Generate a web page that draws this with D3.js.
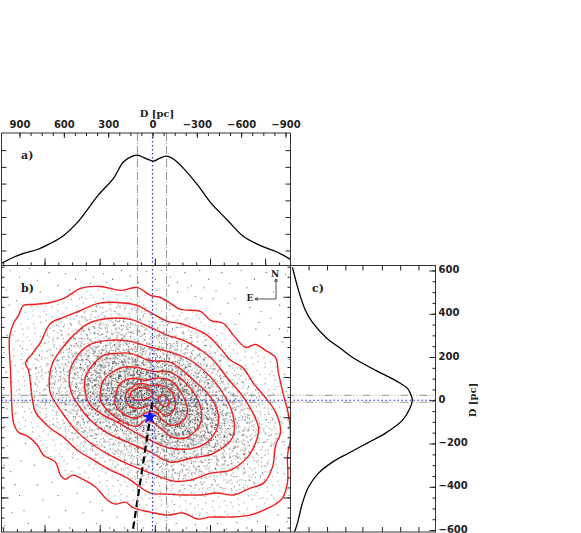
<!DOCTYPE html>
<html>
<head>
<meta charset="utf-8">
<script src="https://d3js.org/d3.v7.min.js"></script>
<style>
  body { margin: 0; background: #fff; }
  svg { display: block; }
  text { font-family: "DejaVu Sans", sans-serif; font-size: 10px; font-weight: bold; fill: #222; }
</style>
</head>
<body>
<svg id="chart" width="581" height="533"></svg>
<script>
// profile along the x direction: D [pc], normalised density
var profileAx = [1022,948,873,779,691,603,508,433,366,264,196,135,102,47,-7,-47,-95,-142,-210,-305,-393,-508,-609,-731,-846,-934];
var profileAy = [.02,.07,.11,.145,.20,.27,.39,.52,.64,.79,.94,.99,1,.97,.945,.97,.99,.965,.88,.73,.57,.41,.27,.18,.12,.055];

// profile along the y direction
var profileCy = [614,508,415,360,286,240,198,138,92,55,23,0,-37,-92,-152,-198,-245,-286,-337,-401,-475,-568,-609];
var profileCx = [.016,.066,.123,.18,.30,.41,.51,.70,.86,.96,.99,1,.98,.92,.78,.63,.475,.344,.23,.148,.098,.057,.033];

// red density contours, outermost first, [D x, D y]
var contour1 = [[968,291],[941,355],[907,392],[873,438],[806,443],[691,452],[589,475],[487,517],[352,526],[217,508],[102,521],[14,485],[-54,475],[-122,448],[-190,420],[-325,411],[-393,369],[-481,355],[-548,300],[-630,245],[-697,258],[-765,231],[-833,198],[-853,125],[-887,23],[-921,-69],[-934,-175],[-914,-254],[-914,-378],[-880,-452],[-833,-480],[-751,-508],[-663,-531],[-528,-540],[-393,-540],[-305,-549],[-210,-521],[-102,-531],[14,-517],[129,-498],[183,-471],[250,-480],[305,-461],[386,-401],[487,-360],[542,-346],[589,-365],[623,-346],[657,-286],[738,-254],[779,-208],[846,-166],[907,-148],[941,-102],[955,23],[961,138]];
var contour2 = [[812,0],[839,138],[860,171],[812,217],[758,268],[691,355],[603,383],[487,415],[366,448],[237,452],[102,438],[14,406],[-102,365],[-190,355],[-278,332],[-372,300],[-460,240],[-528,185],[-609,152],[-684,78],[-751,23],[-833,-55],[-867,-148],[-833,-208],[-812,-309],[-751,-383],[-663,-406],[-548,-438],[-440,-429],[-325,-438],[-210,-438],[-102,-434],[14,-429],[102,-392],[169,-360],[284,-323],[399,-277],[508,-231],[603,-171],[691,-129],[792,-55]];
var contour3 = [[691,32],[698,106],[677,171],[623,231],[535,300],[433,355],[305,378],[149,374],[14,337],[-102,300],[-210,277],[-393,198],[-508,102],[-630,0],[-718,-129],[-697,-198],[-643,-263],[-528,-323],[-393,-337],[-257,-369],[-142,-374],[14,-337],[149,-300],[264,-263],[399,-208],[521,-138],[623,-46]];
var contour4 = [[548,32],[562,125],[521,194],[433,254],[305,277],[149,272],[14,245],[-122,222],[-257,185],[-413,92],[-494,14],[-548,-78],[-542,-171],[-413,-245],[-257,-268],[-122,-286],[14,-240],[169,-194],[305,-152],[420,-92],[501,-23]];
var contour5 = [[454,32],[454,106],[406,162],[332,208],[237,217],[149,217],[27,185],[-122,175],[-257,106],[-393,14],[-447,-78],[-413,-162],[-305,-217],[-122,-222],[14,-185],[81,-162],[237,-102],[332,-69],[420,-23]];
var contour6 = [[352,46],[332,92],[284,125],[203,152],[102,152],[0,134],[-122,129],[-257,55],[-325,-32],[-325,-106],[-237,-171],[-135,-171],[-54,-129],[0,-102],[47,-92],[102,-120],[196,-102],[305,-46],[352,0]];
var contour7 = [[250,23],[217,78],[135,102],[47,92],[-20,102],[-122,92],[-210,14],[-237,-55],[-190,-106],[-122,-115],[-68,-92],[-20,-55],[34,-55],[115,-83],[183,-69],[250,-23]];
var contour8 = [[183,23],[149,55],[81,78],[14,69],[-54,69],[-122,46],[-156,-14],[-135,-55],[-88,-74],[-41,-46],[0,-23],[81,-37],[149,-32]];
var lobeLeft = [[149,32],[81,60],[14,46],[0,23],[81,0],[135,9]];
var lobeRight = [[-41,14],[-74,23],[-108,0],[-108,-23],[-74,-28],[-47,-9]];
var contours = [contour1, contour2, contour3, contour4, contour5, contour6, contour7, contour8, lobeLeft, lobeRight];

var fieldStars = [[960,600],[900,570],[835,610],[780,555],[700,590],[640,530],[590,585],[520,560],[450,600],[400,570],[330,585],[270,560],[210,600],[150,575],[95,545],[40,595],[-20,560],[-60,600],[-120,570],[-170,545],[-220,590],[-265,530],[-320,600],[-380,560],[-430,505],[-470,590],[-520,540],[-560,470],[-600,600],[-640,520],[-690,560],[-735,410],[-770,590],[-820,500],[-860,440],[-900,580],[-915,320],[-880,270],[-925,190],[-895,120],[-790,300],[-720,360],[-660,430],[-590,400],[-510,450],[-460,400],[-410,470],[-350,520],[-290,480],[-240,520],[-170,500],[-110,530],[990,510],[970,440],[1000,380],[985,300],[1005,220],[990,130],[1005,50],[985,-40],[1000,-120],[980,-210],[1005,-300],[960,-330],[930,-390],[985,-450],[950,-520],[1000,-580],[900,-440],[870,-510],[840,-570],[800,-300],[780,-390],[740,-460],[700,-540],[680,-380],[640,-440],[590,-510],[560,-590],[510,-430],[470,-520],[420,-470],[380,-570],[340,-510],[290,-590],[240,-540],[190,-590],[120,-560],[60,-590],[-30,-570],[-90,-590],[-160,-570],[-230,-590],[-290,-575],[-370,-590],[-440,-570],[-500,-595],[-570,-565],[-640,-590],[-710,-560],[-780,-585],[-850,-530],[-910,-560],[-925,-440],[-925,-320],[-890,-190],[-870,-100],[890,-280],[860,-200],[930,-60],[900,50],[880,240],[920,460],[760,500],[560,510],[420,540],[310,545],[-30,510],[-330,470],[-560,350],[-700,330],[-800,380],[-860,330],[-905,40],[-925,-30]];

// irregular stipple tile for the crowded middle of the cloud
var stippleTile = [[3,7],[17,2],[26,13],[41,4],[53,11],[68,3],[79,14],[93,6],[8,22],[21,27],[35,18],[47,29],[58,21],[72,26],[86,19],[97,31],[2,38],[14,44],[29,36],[38,47],[51,41],[64,35],[77,43],[90,39],[6,56],[19,61],[33,54],[44,66],[56,58],[69,52],[83,60],[95,55],[11,73],[25,78],[40,72],[52,81],[63,69],[75,76],[88,71],[99,82],[4,88],[16,94],[30,86],[43,96],[57,90],[67,85],[81,92],[92,97],[37,9],[61,12],[12,33],[84,31],[24,48],[71,61],[47,53],[9,65],[34,93],[60,99],[96,66],[79,83],[49,14],[22,84],[65,46],[89,50],[31,68],[74,8]];
// how many stipple layers each contour adds to the area inside it
var stippleLayers = [1,2,3,4,5,6,6,5,0,0];

// tick values
var topTicks = [900,600,300,0,-300,-600,-900];
var rightTicks = [600,400,200,0,-200,-400,-600];
var densityTicksA = [.136,.287,.439,.59,.742,.893,1.045];
var densityTicksC = [.148,.30,.45,.59,.75,.90,1.05];

// reference lines
var peakX = [102,-95];
var peakY = [23,-9];
var starPos = [20,-78];
var pmLine = [[0,-9],[135,-609]];

var svg = d3.select("#chart");

// panel edges
var left = 1.5, mid = 290.5, right = 435.5;
var top1 = 133, top2 = 265.5, bottom = 532;

var x = d3.scaleLinear().domain([1022,-934]).range([left,mid]);
var y = d3.scaleLinear().domain([623,-609]).range([top2,bottom]);
var yA = d3.scaleLinear().domain([0,1.2]).range([top2,top1]);
var xC = d3.scaleLinear().domain([0,1.19]).range([mid,right]);
// the unlabelled offset scales on the inner edges
var xOff = d3.scaleLinear().domain([2.78,-2.46]).range([left,mid]);
var yOff = d3.scaleLinear().domain([3.78,-2.86]).range([top2,bottom]);

var curveLine = d3.line().curve(d3.curveCatmullRomClosed)
  .x(function(d){ return x(d[0]); })
  .y(function(d){ return y(d[1]); });

var defs = svg.append("defs");
defs.append("clipPath").attr("id","clipB").append("rect")
  .attr("x",left).attr("y",top2).attr("width",mid-left).attr("height",bottom-top2);

var panelB = svg.append("g").attr("clip-path","url(#clipB)");

// stipple layers, each tile turned and scaled a little differently
var layerNo = 0;
contours.forEach(function(c,i){
  d3.range(stippleLayers[i]).forEach(function(){
    var pat = defs.append("pattern")
      .attr("id","stip"+layerNo)
      .attr("patternUnits","userSpaceOnUse")
      .attr("width",100).attr("height",100)
      .attr("patternTransform","rotate(" + (layerNo*37+11) + ") scale(" + (.54 + (layerNo%4)*.03) + ")");
    pat.selectAll("rect").data(stippleTile).enter().append("rect")
      .attr("x",function(d){ return d[0]; })
      .attr("y",function(d){ return d[1]; })
      .attr("width",1.4).attr("height",1.4)
      .attr("fill","#111");
    panelB.append("path")
      .datum(c)
      .attr("d",curveLine)
      .attr("fill","url(#stip"+layerNo+")");
    layerNo++;
  });
});

panelB.selectAll("circle").data(fieldStars).enter().append("circle")
  .attr("cx",function(d){ return x(d[0]); })
  .attr("cy",function(d){ return y(d[1]); })
  .attr("r",.55)
  .attr("fill","#444");

// grey dash dot lines through panels a and b
svg.selectAll("line.peakx").data(peakX).enter().append("line")
  .attr("class","peakx")
  .attr("x1",function(d){ return x(d); }).attr("x2",function(d){ return x(d); })
  .attr("y1",top1).attr("y2",bottom)
  .attr("stroke","#777").attr("stroke-width",.8).attr("stroke-dasharray","8,2,1,2");

svg.selectAll("line.peaky").data(peakY).enter().append("line")
  .attr("class","peaky")
  .attr("x1",left).attr("x2",right)
  .attr("y1",function(d){ return y(d); }).attr("y2",function(d){ return y(d); })
  .attr("stroke","#777").attr("stroke-width",.8).attr("stroke-dasharray","8,2,1,2,1,2,1,2");

// blue dotted zero lines
svg.append("line")
  .attr("x1",x(0)).attr("x2",x(0)).attr("y1",top1).attr("y2",bottom)
  .attr("stroke","#2030e0").attr("stroke-width",1.2).attr("stroke-dasharray","1.5,2.5");
svg.append("line")
  .attr("x1",left).attr("x2",right).attr("y1",y(0)).attr("y2",y(0))
  .attr("stroke","#2030e0").attr("stroke-width",1.2).attr("stroke-dasharray","1.5,2.5");

// contours on top of the dots
panelB.selectAll("path.contour").data(contours).enter().append("path")
  .attr("class","contour")
  .attr("d",curveLine)
  .attr("fill","none")
  .attr("stroke","#f01c1c")
  .attr("stroke-width",1.4);

// black dashed line and star
panelB.append("line")
  .attr("x1",x(pmLine[0][0])).attr("y1",y(pmLine[0][1]))
  .attr("x2",x(pmLine[1][0])).attr("y2",y(pmLine[1][1]))
  .attr("stroke","#000").attr("stroke-width",2.2).attr("stroke-dasharray","7,4");

svg.append("path")
  .attr("d",d3.symbol().type(d3.symbolStar).size(70))
  .attr("transform","translate(" + x(starPos[0]) + "," + y(starPos[1]) + ")")
  .attr("fill","#1414f0");

// profiles
svg.append("path")
  .datum(profileAx)
  .attr("fill","none").attr("stroke","#000").attr("stroke-width",1.3)
  .attr("d",d3.line().curve(d3.curveCatmullRom)
    .x(function(d){ return x(d); })
    .y(function(d,i){ return yA(profileAy[i]); }));

svg.append("path")
  .datum(profileCy)
  .attr("fill","none").attr("stroke","#000").attr("stroke-width",1.3)
  .attr("d",d3.line().curve(d3.curveCatmullRom)
    .x(function(d,i){ return xC(profileCx[i]); })
    .y(function(d){ return y(d); }));

// frames
svg.append("rect").attr("x",left).attr("y",top1).attr("width",mid-left).attr("height",top2-top1)
  .attr("fill","none").attr("stroke","#333");
svg.append("rect").attr("x",left).attr("y",top2).attr("width",mid-left).attr("height",bottom-top2)
  .attr("fill","none").attr("stroke","#333");
svg.append("rect").attr("x",mid).attr("y",top2).attr("width",right-mid).attr("height",bottom-top2)
  .attr("fill","none").attr("stroke","#333");

function cleanAxis(g){
  g.select(".domain").remove();
  g.selectAll("line").attr("stroke","#222");
  g.selectAll("text").style("font-size","10px");
}
function minus(d){ return d < 0 ? "\u2212" + (-d) : d; }

// top axis of panel a
svg.append("g").attr("transform","translate(0," + top1 + ")")
  .call(d3.axisTop(x).tickValues(d3.range(-900,901,75)).tickSize(-3).tickFormat(""))
  .call(cleanAxis);
svg.append("g").attr("transform","translate(0," + top1 + ")")
  .call(d3.axisTop(x).tickValues(topTicks).tickSize(-5).tickPadding(5).tickFormat(minus))
  .call(cleanAxis);

// offset ticks along the bottom of panel a, and both edges of panel b
[top2, bottom].forEach(function(yy){
  svg.append("g").attr("transform","translate(0," + yy + ")")
    .call(d3.axisTop(xOff).tickValues(d3.range(-2.25,2.76,.25)).tickSize(3).tickFormat(""))
    .call(cleanAxis);
  svg.append("g").attr("transform","translate(0," + yy + ")")
    .call(d3.axisTop(xOff).tickValues(d3.range(-2,3,1)).tickSize(7).tickFormat(""))
    .call(cleanAxis);
});
[left, mid].forEach(function(xx, i){
  var ax = i == 0 ? d3.axisRight(yOff) : d3.axisLeft(yOff);
  svg.append("g").attr("transform","translate(" + xx + ",0)")
    .call(ax.tickValues(d3.range(-2.75,3.76,.25)).tickSize(3).tickFormat(""))
    .call(cleanAxis);
  svg.append("g").attr("transform","translate(" + xx + ",0)")
    .call(ax.tickValues(d3.range(-2,4,1)).tickSize(7).tickFormat(""))
    .call(cleanAxis);
});

// density ticks on panel a and panel c
svg.append("g").attr("transform","translate(" + left + ",0)")
  .call(d3.axisRight(yA).tickValues(densityTicksA).tickSize(5).tickFormat("")).call(cleanAxis);
svg.append("g").attr("transform","translate(" + mid + ",0)")
  .call(d3.axisLeft(yA).tickValues(densityTicksA).tickSize(5).tickFormat("")).call(cleanAxis);
svg.append("g").attr("transform","translate(0," + top2 + ")")
  .call(d3.axisBottom(xC).tickValues(densityTicksC).tickSize(5).tickFormat("")).call(cleanAxis);
svg.append("g").attr("transform","translate(0," + bottom + ")")
  .call(d3.axisTop(xC).tickValues(densityTicksC).tickSize(5).tickFormat("")).call(cleanAxis);

// right axis of panel c
svg.append("g").attr("transform","translate(" + right + ",0)")
  .call(d3.axisLeft(y).tickValues(d3.range(-600,601,50)).tickSize(3).tickFormat("")).call(cleanAxis);
svg.append("g").attr("transform","translate(" + right + ",0)")
  .call(d3.axisRight(y).tickValues(rightTicks).tickSize(0).tickPadding(3).tickFormat(minus))
  .call(cleanAxis)
  .call(function(g){ g.selectAll("text").attr("dy","0.22em"); });
svg.append("g").attr("transform","translate(" + right + ",0)")
  .call(d3.axisLeft(y).tickValues(rightTicks).tickSize(6).tickFormat("")).call(cleanAxis);

// titles
svg.append("text").attr("x",157).attr("y",117).attr("text-anchor","middle")
  .style("font-family","'DejaVu Serif', serif").text("D [pc]");
svg.append("text").attr("transform","translate(476,400) rotate(-90)").attr("text-anchor","middle")
  .style("font-family","'DejaVu Serif', serif").text("D [pc]");

svg.append("text").attr("x",21).attr("y",159).style("font-family","'DejaVu Serif', serif").style("font-size","11px").text("a)");
svg.append("text").attr("x",21).attr("y",292).style("font-family","'DejaVu Serif', serif").style("font-size","11px").text("b)");
svg.append("text").attr("x",312).attr("y",292).style("font-family","'DejaVu Serif', serif").style("font-size","11px").text("c)");

// compass
var compass = svg.append("g").attr("stroke","#222").attr("stroke-width",.8).attr("fill","none");
compass.append("path").attr("d","M276,279V299H255");
compass.append("path").attr("d","M274.5,282L276,279L277.5,282M258,297.5L255,299L258,300.5");
svg.append("text").attr("x",275).attr("y",277).attr("text-anchor","middle").style("font-size","9px").style("font-family","'DejaVu Serif', serif").text("N");
svg.append("text").attr("x",250).attr("y",301).attr("text-anchor","middle").style("font-size","9px").style("font-family","'DejaVu Serif', serif").text("E");
</script>
</body>
</html>
